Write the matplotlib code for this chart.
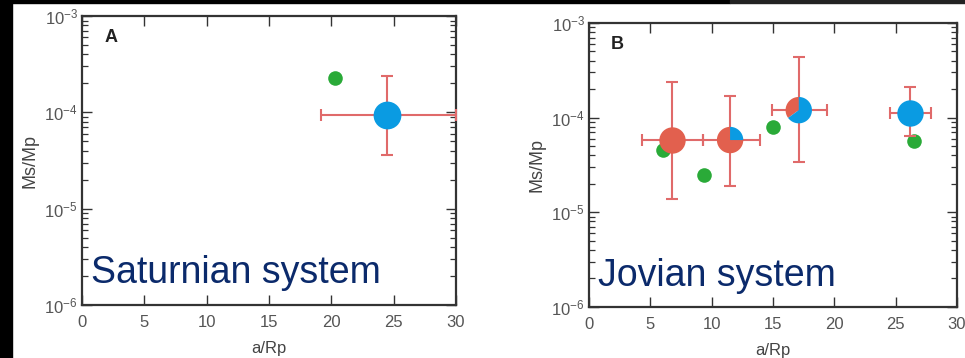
import numpy as np
import matplotlib
matplotlib.use("Agg")
import matplotlib.pyplot as plt
from matplotlib.patches import Rectangle

plt.rcParams['font.family'] = ['Liberation Sans', 'DejaVu Sans']

# ---- data: Saturnian system (panel A)
sat_green_x = [20.3]
sat_green_y = [2.27e-4]
sat_x = [24.5]
sat_y = [9.3e-5]
sat_xerr_lo = [19.2]
sat_xerr_hi = [30.0]
sat_yerr_lo = [3.6e-5]
sat_yerr_hi = [2.4e-4]
sat_red_frac = [0.0]

# ---- data: Jovian system (panel B)
jov_green_x = [6.0, 9.4, 15.0, 26.5]
jov_green_y = [4.6e-5, 2.5e-5, 7.9e-5, 5.7e-5]
jov_x = [6.8, 11.5, 17.1, 26.2]
jov_y = [5.8e-5, 5.8e-5, 1.2e-4, 1.11e-4]
jov_xerr_lo = [4.3, 9.3, 14.9, 24.5]
jov_xerr_hi = [9.3, 13.9, 19.4, 27.9]
jov_yerr_lo = [1.37e-5, 1.9e-5, 3.4e-5, 6.4e-5]
jov_yerr_hi = [2.37e-4, 1.71e-4, 4.4e-4, 2.13e-4]
jov_red_frac = [1.0, 0.75, 0.35, 0.0]

xticks = [0, 5, 10, 15, 20, 25, 30]

RED = '#e2604e'
BLUE = '#0a9be2'
GREEN = '#2aaa38'
ERR = '#e06a6a'
NAVY = '#0b2a6b'
TICKC = '#555555'


def wedge_verts(a0, a1, n=60):
    t = np.radians(np.linspace(a0, a1, n))
    pts = [(0.0, 0.0)] + [(np.cos(v), np.sin(v)) for v in t] + [(0.0, 0.0)]
    return pts


def pie_marker(ax, x, y, red_frac, ms):
    if red_frac >= 0.999:
        ax.plot([x], [y], 'o', color=RED, ms=ms, mec='none', zorder=5)
        return
    if red_frac <= 0.001:
        ax.plot([x], [y], 'o', color=BLUE, ms=ms, mec='none', zorder=5)
        return
    a_end = 90 + 360 * red_frac
    ax.scatter([x], [y], marker=wedge_verts(90, a_end), s=ms ** 2,
               color=RED, edgecolors='none', zorder=5)
    ax.scatter([x], [y], marker=wedge_verts(a_end, 450), s=ms ** 2,
               color=BLUE, edgecolors='none', zorder=5)


def setup(ax, letter, label):
    ax.set_yscale('log')
    ax.set_ylim(1e-6, 1e-3)
    ax.set_xlim(0, 30)
    ax.set_xticks(xticks)
    ax.tick_params(axis='both', which='major', direction='in', length=7,
                   width=1, color='#333333', labelcolor=TICKC, labelsize=12,
                   top=True, right=True)
    ax.tick_params(axis='x', which='major', pad=7)
    ax.tick_params(axis='y', which='major', pad=3)
    ax.tick_params(axis='y', which='minor', direction='in', length=4,
                   width=0.9, color='#333333', right=True, left=True)
    for s in ax.spines.values():
        s.set_color('#333333')
        s.set_linewidth(1.6)
    ax.set_xlabel('a/Rp', fontsize=12, color='#444444', labelpad=8)
    ax.set_ylabel('Ms/Mp', fontsize=13, color='#444444', labelpad=4)
    ax.text(0.06, 0.925, letter, transform=ax.transAxes, fontsize=13,
            fontweight='bold', color='#222222', va='center')
    ax.text(0.025, 0.075, label, transform=ax.transAxes, fontsize=27,
            color=NAVY, va='baseline')


fig = plt.figure(figsize=(9.65, 3.58), dpi=100)
fig.patch.set_facecolor('white')

axA = fig.add_axes([0.085, 0.148, 0.3876, 0.807])
axB = fig.add_axes([0.6104, 0.1425, 0.3813, 0.7933])

for ax, gx, gy, x, y, xl, xh, yl, yh, rf, letter, label, ms in [
    (axA, sat_green_x, sat_green_y, sat_x, sat_y, sat_xerr_lo, sat_xerr_hi,
     sat_yerr_lo, sat_yerr_hi, sat_red_frac, 'A', 'Saturnian system', 20),
    (axB, jov_green_x, jov_green_y, jov_x, jov_y, jov_xerr_lo, jov_xerr_hi,
     jov_yerr_lo, jov_yerr_hi, jov_red_frac, 'B', 'Jovian system', 19),
]:
    setup(ax, letter, label)
    ax.plot(gx, gy, 'o', color=GREEN, ms=10.5, mec='none', zorder=3)
    xa = np.array(x)
    ya = np.array(y)
    xerr = np.vstack([xa - np.array(xl), np.array(xh) - xa])
    yerr = np.vstack([ya - np.array(yl), np.array(yh) - ya])
    ax.errorbar(xa, ya, xerr=xerr, yerr=yerr, fmt='none', ecolor=ERR,
                elinewidth=1.5, capsize=4, capthick=1.5, zorder=4)
    for xi, yi, fr in zip(x, y, rf):
        pie_marker(ax, xi, yi, fr, ms)

# dark frame strips of the screenshot
fig.patches.append(Rectangle((0, 0), 12 / 965, 1, transform=fig.transFigure,
                             color='black', zorder=0))
fig.patches.append(Rectangle((0, 1 - 3 / 358), 730 / 965, 3 / 358,
                             transform=fig.transFigure, color='black', zorder=0))
fig.patches.append(Rectangle((730 / 965, 1 - 3 / 358), 235 / 965, 3 / 358,
                             transform=fig.transFigure, color='#222222', zorder=0))

fig.savefig('out.png', dpi=100, facecolor=fig.get_facecolor())
